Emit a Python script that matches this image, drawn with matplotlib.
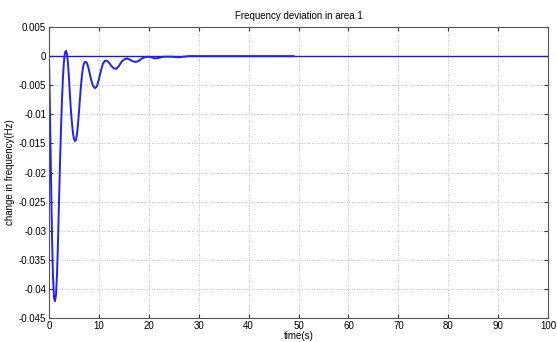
import matplotlib
matplotlib.use("Agg")
import matplotlib.pyplot as plt
import numpy as np
from matplotlib.ticker import FormatStrFormatter

plt.rcParams['font.family'] = ['Liberation Sans', 'DejaVu Sans']

t = [0, 0.2, 0.4, 0.6, 0.8, 1.0, 1.2, 1.4, 1.6, 1.8, 2.0, 2.2, 2.4, 2.6, 2.8,
     3.0, 3.2, 3.4, 3.6, 3.8, 4.0, 4.2, 4.4, 4.6, 4.8, 5.0, 5.2, 5.4, 5.6, 5.8,
     6.0, 6.2, 6.4, 6.6, 6.8, 7.0, 7.2, 7.4, 7.6, 7.8, 8.0, 8.4, 8.8, 9.2, 9.6,
     10.0, 10.4, 10.8, 11.2, 11.6, 12.0, 12.5, 13.0, 13.5, 14.0, 14.5, 15.0,
     15.6, 16.2, 16.8, 17.4, 18.0, 18.6, 19.2, 19.8, 20.5, 21.2, 22.0, 23.0,
     24.5, 26.0, 28.0, 30, 35, 40, 45, 49]
df = [0, -0.010, -0.021, -0.031, -0.038, -0.0415, -0.0421, -0.0410, -0.0375,
      -0.032, -0.025, -0.0185, -0.0125, -0.0075, -0.0035, -0.0008, 0.0006,
      0.0009, 0.0004, -0.0012, -0.0038, -0.0068, -0.0095, -0.0115, -0.0132,
      -0.0142, -0.0146, -0.0144, -0.0135, -0.0118, -0.0096, -0.0073, -0.0051,
      -0.0033, -0.0020, -0.0013, -0.0010, -0.0010, -0.0012, -0.0017, -0.0024,
      -0.0039, -0.0051, -0.0055, -0.0052, -0.0040, -0.0025, -0.0013, -0.0008,
      -0.0008, -0.0011, -0.0017, -0.0021, -0.0022, -0.0017, -0.0010, -0.0006,
      -0.0004, -0.0006, -0.0009, -0.0010, -0.0008, -0.0004, -0.0002, -0.0001,
      -0.0002, -0.0004, -0.0003, -0.0001, -0.0001, -0.0002, 0.0, 0.0, 0.0,
      0.0, 0.0, 0.0]
ref_t = [0, 100]
ref_y = [0, 0]

xticks = list(range(0, 101, 10))
yticks = [0.005, 0, -0.005, -0.01, -0.015, -0.02, -0.025, -0.03, -0.035, -0.04, -0.045]

fig = plt.figure(figsize=(5.57, 3.42), dpi=100)
ax = fig.add_axes([0.088, 0.070, 0.896, 0.851])
ax.plot(ref_t, ref_y, color='#1a1acc', lw=1.0)
ax.plot(t, df, color='#1f1fff', lw=1.4)
ax.set_xlim(0, 100)
ax.set_ylim(-0.045, 0.005)
ax.set_xticks(xticks)
ax.set_yticks(yticks)
ax.yaxis.set_major_formatter(FormatStrFormatter('%g'))
ax.tick_params(direction='in', top=True, right=True, labelsize=7, length=3,
               pad=2, color='#333333')
ax.grid(True, linestyle=(0, (1, 2)), color='#b5b5b5', lw=0.6)
for s in ax.spines.values():
    s.set_color('#555555')
    s.set_linewidth(0.8)
ax.set_title('Frequency deviation in area 1', fontsize=7, pad=6)
ax.set_xlabel('time(s)', fontsize=7, labelpad=0)
ax.set_ylabel('change in frequency(Hz)', fontsize=7, labelpad=3)
fig.savefig('out.png', dpi=100)
